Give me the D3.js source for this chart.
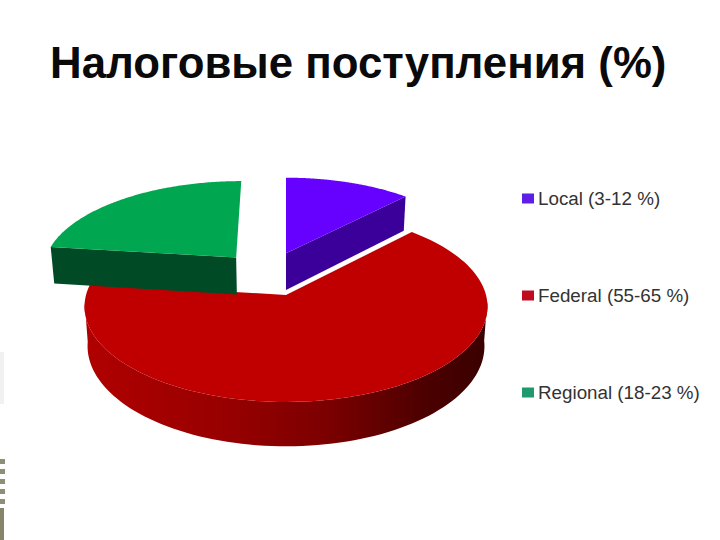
<!DOCTYPE html>
<html>
<head>
<meta charset="utf-8">
<script src="https://cdn.jsdelivr.net/npm/d3@7"></script>
<style>
  html, body { margin: 0; padding: 0; background: #fff; }
  svg { display: block; font-family: "Liberation Sans", Arial, sans-serif; }
</style>
</head>
<body>
<svg id="chart" width="720" height="540"></svg>
<script>
const titleText = 'Налоговые поступления (%)';
const categories = ['Local', 'Federal', 'Regional'];
const rangeLabels = ['3-12 %', '55-65 %', '18-23 %'];
// shares as drawn in the picture
const shares = [12, 65, 23];
const topColors = ['#6600ff', '#c00000', '#00a650'];
const wallColors = ['#3a0099', '#8a0000', '#004a26'];
const legendColors = ['#5f1ee6', '#c00d1e', '#1f9a6c'];

const svg = d3.select('#chart');

// Pie plane seen at an angle: nearer points get bigger
const cx = 286, cy = 295;
const rx = 200, ry = 94, persp = 0.121;
const depth = 39, bottomShrink = 0.985;

// how far each slice is pulled out, in pie radius units
const explode = [[0, -0.47], [0, 0], [-0.262, -0.42]];

function project(wx, wy, low) {
  const s = 1 / (1 - persp * wy);
  const k = low ? bottomShrink : 1;
  return [cx + rx * wx * s * k, cy + ry * wy * s + (low ? depth * s : 0)];
}

const pie = d3.pie().sort(null).value(d => d);
const arcs = pie(shares);
const line = d3.line();

function rimPoints(i, from, to) {
  const [ox, oy] = explode[i];
  return d3.range(0, 121).map(t => {
    const a = from + (to - from) * t / 120;
    return [ox + Math.sin(a), oy - Math.cos(a)];
  });
}

const defs = svg.append('defs');
const wallGrad = defs.append('linearGradient')
  .attr('id', 'federalWall')
  .attr('gradientUnits', 'userSpaceOnUse')
  .attr('x1', cx - rx).attr('x2', cx + rx)
  .attr('y1', 0).attr('y2', 0);
wallGrad.selectAll('stop')
  .data([[0, '#b00000'], [0.35, '#980000'], [0.6, '#7c0000'], [0.85, '#4c0000'], [1, '#3a0000']])
  .join('stop')
  .attr('offset', d => d[0])
  .attr('stop-color', d => d[1]);

const pieG = svg.append('g');

function drawSlice(i) {
  const d = arcs[i];
  const [ox, oy] = explode[i];
  const rim = rimPoints(i, d.startAngle, d.endAngle);
  const g = pieG.append('g').attr('class', 'slice-' + categories[i].toLowerCase());

  // outer wall, only the front part can be seen
  if (i === 1) {
    const front = rim.filter(p => p[1] - oy > 0.05);
    const upper = front.map(p => project(p[0], p[1], false));
    const lower = front.map(p => project(p[0], p[1], true)).reverse();
    g.append('path')
      .attr('d', line(upper.concat(lower)) + 'Z')
      .attr('fill', 'url(#federalWall)');
  }

  // cut wall facing the viewer
  if (i !== 1) {
    const edge = i === 0 ? rim[rim.length - 1] : rim[0];
    const quad = [
      project(ox, oy, false),
      project(edge[0], edge[1], false),
      project(edge[0], edge[1], true),
      project(ox, oy, true)
    ];
    g.append('path')
      .attr('d', line(quad) + 'Z')
      .attr('fill', wallColors[i]);
  }

  // top face
  const top = [project(ox, oy, false)].concat(rim.map(p => project(p[0], p[1], false)));
  g.append('path')
    .attr('d', line(top) + 'Z')
    .attr('fill', topColors[i]);
}

drawSlice(1);
drawSlice(2);
drawSlice(0);

// Title
svg.append('text')
  .attr('x', 50)
  .attr('y', 78)
  .attr('font-size', 43.8)
  .attr('font-weight', 700)
  .attr('fill', '#0a0a0a')
  .text(titleText);

// Legend
const legendY = d3.scalePoint().domain(categories).range([198.5, 392.5]);
const legend = svg.append('g').selectAll('g')
  .data(categories)
  .join('g')
  .attr('transform', d => `translate(522,${legendY(d)})`);
legend.append('rect')
  .attr('y', -5).attr('width', 12).attr('height', 10)
  .attr('fill', (d, i) => legendColors[i]);
legend.append('text')
  .attr('x', 16)
  .attr('dy', '0.36em')
  .attr('font-size', 18.8)
  .attr('fill', '#333')
  .text((d, i) => `${d} (${rangeLabels[i]})`);

// Slide background leftovers on the left edge
const frame = svg.append('g');
frame.append('rect').attr('x', 0).attr('y', 352).attr('width', 4).attr('height', 52).attr('fill', '#f1f1f1');
frame.append('rect').attr('x', 0).attr('y', 508).attr('width', 4).attr('height', 32).attr('fill', '#85856a');
frame.selectAll('rect.tick')
  .data(d3.range(5))
  .join('rect')
  .attr('class', 'tick')
  .attr('x', 0)
  .attr('y', i => 459 + i * 10)
  .attr('width', 5)
  .attr('height', 5)
  .attr('fill', '#8f8f78');
</script>
</body>
</html>
